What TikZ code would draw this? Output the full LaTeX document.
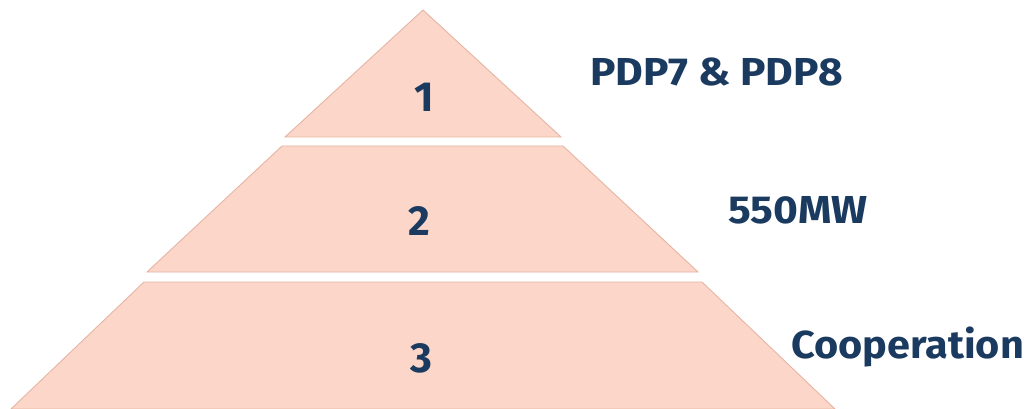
\documentclass[tikz,border=0pt]{standalone}
\usepackage{fontspec}
\setmainfont{Fira Sans}
\definecolor{tierfill}{HTML}{FCD6C8}
\definecolor{tierline}{HTML}{E6B4A4}
\definecolor{navy}{HTML}{1B3A60}
\begin{document}
\begin{tikzpicture}[x=1pt,y=-1pt,
  tier/.style={fill=tierfill,draw=tierline,line width=0.9pt,line join=miter},
  num/.style={text=navy,font=\fontsize{42}{42}\selectfont\bfseries,anchor=base},
  lbl/.style={text=navy,font=\fontsize{39}{39}\selectfont\bfseries,anchor=base west,inner sep=0pt,xscale=1.09}]
  \useasboundingbox (0,0) rectangle (1028,409);
  % three tiers of the pyramid, top to bottom
  \draw[tier] (423,10) -- (561,137) -- (285,137) -- cycle;
  \draw[tier] (282,146) -- (563,146) -- (698,272) -- (147,272) -- cycle;
  \draw[tier] (144,282) -- (702,282) -- (835,409) -- (11,409) -- cycle;
  % tier numbers
  \node[num] (n1) at (424,112) {1};
  \node[num] (n2) at (419,235) {2};
  \node[num] (n3) at (421,372) {3};
  % labels beside the tiers
  \node[lbl] (l1) at (590,86) {PDP7 \& PDP8};
  \node[lbl] (l2) at (728,223) {550MW};
  \node[lbl,xscale=0.975] (l3) at (791,358) {Cooperation};
\end{tikzpicture}
\end{document}
